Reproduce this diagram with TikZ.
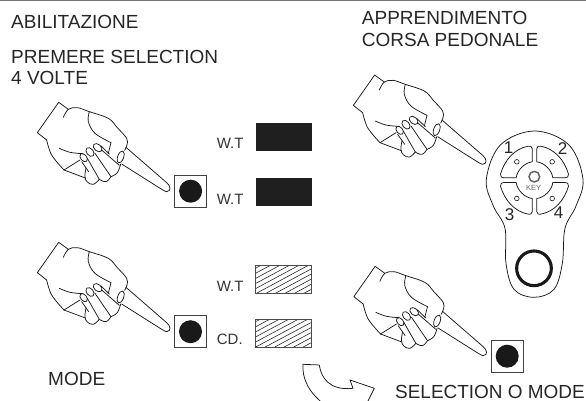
\documentclass[tikz,border=0pt]{standalone}
\usepackage{fontspec}
\setmainfont{Liberation Sans}
\tikzset{
  ink/.style={draw=black!90,line width=0.75pt,line join=round,line cap=round},
  label/.style={anchor=base west,inner sep=0pt,text=black!85,font=\fontsize{19}{22}\selectfont},
  small/.style={anchor=base west,inner sep=0pt,text=black!80,font=\fontsize{15}{18}\selectfont},
  digit/.style={inner sep=0pt,text=black!85,font=\fontsize{17}{20}\selectfont},
  hatchbox/.style={draw=black!70,line width=0.8pt},
  btn/.style={draw=black!75,line width=0.9pt,fill=white},
  hand/.pic={
    \begin{scope}[x=0.3333pt,y=-0.3333pt]
      \draw[ink] plot[smooth,tension=.6] coordinates {(190,82) (205,58) (232,53) (268,65) (325,85) (352,113) (380,145) (381,165) (374,181)};
      \draw[ink] (205,58) -- (176,37) -- (112,128) -- (140,150);
      \draw[ink] plot[smooth,tension=.6] coordinates {(140,150) (155,195) (192,240)};
      \draw[ink] (192,240) -- (240,258) -- (256,264);
      \draw[ink] plot[smooth,tension=.6] coordinates {(268,65) (265,95) (285,130) (333,158)};
      \draw[ink] (333,158) -- (325,190);
      \draw[ink] (303,168) -- (328,192);
      \draw[ink] plot[smooth,tension=.6] coordinates {(178,175) (210,187) (248,191)};
      \draw[ink] (192,240) -- (240,210);
      \draw[ink] (245,215) -- (266,245);
      \draw[ink] plot[smooth,tension=.7] coordinates {(258,234) (255,260) (262,276) (280,283) (298,268)};
      \draw[ink] (262,205) -- (298,268);
      \draw[ink] plot[smooth,tension=.7] coordinates {(298,268) (318,275) (333,260)};
      \draw[ink] (285,190) -- (333,260);
      \draw[ink] plot[smooth,tension=.7] coordinates {(333,260) (352,248) (362,222)};
      \draw[ink] (305,180) -- (358,226);
      \draw[ink,rotate around={-50:(251,203)}] (251,203) ellipse [x radius=14,y radius=9];
      \draw[ink,rotate around={-50:(270,186)}] (270,186) ellipse [x radius=15,y radius=10];
      \draw[ink,rotate around={-40:(293,173)}] (293,173) ellipse [x radius=15,y radius=10];
      \draw[ink,rotate around={70:(362,201)}] (362,201) ellipse [x radius=19,y radius=9];
      \draw[ink] (378,172) -- (500,278) .. controls (512,288) and (515,303) .. (500,305) .. controls (495,305) and (490,301) .. (365,222);
    \end{scope}
  },
  pushbutton/.pic={
    \draw[btn] (-16,-16.2) rectangle (16,16.2);
    \fill[black!90] (0,0) circle [radius=11.5];
  },
  keypad/.pic={
    \begin{scope}[x=0.3333pt,y=-0.3333pt]
      \draw[ink] plot[smooth cycle,tension=.6] coordinates {(49,238) (91,135) (194,93) (297,135) (339,238) (318,318) (285,385) (277,490) (252,568) (192,592) (132,568) (108,490) (105,385) (70,318)};
      \foreach \sx/\sy in {1/1,-1/1,1/-1,-1/-1} {
        \begin{scope}[shift={(193.5,240.5)},xscale=\sx,yscale=\sy]
          \draw[ink] (-7,-55) -- (-7,-95) .. controls (-7,-103) and (-14,-103) .. (-18,-102) .. controls (-60,-95) and (-90,-60) .. (-102,-18) .. controls (-103,-10) and (-98,-7) .. (-92,-7) -- (-55,-7) .. controls (-52,-30) and (-30,-52) .. (-7,-55) -- cycle;
          \draw[ink,line width=0.6pt] (-53,-55) circle [radius=7];
        \end{scope}
      }
      \draw[draw=black!60,line width=1.5pt] (193,230) circle [radius=16];
      \draw[draw=black!90,line width=3.1pt] (192,505) circle [radius=52];
    \end{scope}
  }
}
\begin{document}
\begin{tikzpicture}[x=1pt,y=-1pt]
\useasboundingbox (0,0) rectangle (586,401);
\clip (0,0) rectangle (586,401);
\draw[black!55,line width=1.2pt] (0,0.4) -- (586,0.4);

\pic at (0,90) {hand};
\pic at (0,230) {hand};
\pic at (316,62.7) {hand};
\pic at (316.5,254) {hand};

\pic at (190.6,191.2) {pushbutton};
\pic at (190.5,331.7) {pushbutton};
\pic at (507.2,356.2) {pushbutton};

\pic at (470,100) {keypad};

\fill[black!88] (255.7,123) rectangle (311.7,151);
\fill[black!88] (255.7,177.7) rectangle (311.7,206);
\foreach \ya/\yb in {265.7/293.7,319.3/347} {
  \begin{scope}
    \clip (255.7,\ya) rectangle (311.7,\yb);
    \foreach \k in {-6,...,6}
      \draw[black!85,line width=0.6pt] (255.7+\k*9.5,\yb) -- (255.7+\k*9.5+52,\ya);
  \end{scope}
  \draw[hatchbox] (255.7,\ya) rectangle (311.7,\yb);
}

\draw[ink] (303,364.3) -- (319.3,365) .. controls (321,378) and (330,391) .. (353,388.3) -- (350,380) -- (374.3,388.3) -- (366,405);
\draw[ink] (303,364.3) .. controls (302,378) and (308,392) .. (325,405);

\node[label] (tone) at (11,29) {ABILITAZIONE};
\node[label] (ttwo) at (11,64) {PREMERE SELECTION};
\node[label] (tthree) at (11,85) {4 VOLTE};
\node[label] (tfour) at (48,385.7) {MODE};
\node[label] (tfive) at (361.7,25) {APPRENDIMENTO};
\node[label] (tsix) at (361.7,46.7) {CORSA PEDONALE};
\node[label,font=\fontsize{18.95}{22}\selectfont] (tseven) at (395,398.5) {SELECTION O MODE};

\node[small] (wone) at (216.7,149) {W.T};
\node[small] (wtwo) at (216.7,204) {W.T};
\node[small] (wthree) at (216.7,291) {W.T};
\node[small] (cd) at (216.7,344) {CD.};

\node[digit] (n1) at (508.5,148) {1};
\node[digit] (n2) at (562.5,149) {2};
\node[digit] (n3) at (509.5,214.5) {3};
\node[digit] (n4) at (558.5,213) {4};
\node[inner sep=0pt,text=black!60,font=\fontsize{7.5}{8}\selectfont] (key) at (533.5,187.5) {KEY};
\end{tikzpicture}
\end{document}
